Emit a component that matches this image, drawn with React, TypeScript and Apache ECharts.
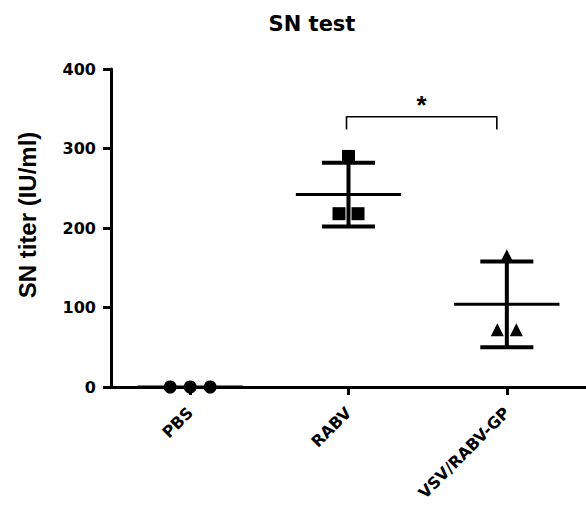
import React, { useEffect, useRef } from "react";
import * as echarts from "echarts";

// ---- data ----
const CATEGORIES = ["PBS", "RABV", "VSV/RABV-GP"];
const PBS_VALUES = [0, 0, 0];
const RABV_VALUES = [290, 218, 218];
const VSV_VALUES = [165, 72, 72];
const GROUP_MEANS = [0, 242, 104];
const GROUP_SDS = [0, 40, 54];
const Y_TICKS = [0, 100, 200, 300, 400];
const TITLE = "SN test";
const Y_TITLE = "SN titer (IU/ml)";
const SIG_FROM = 1;
const SIG_TO = 2;
const SIG_TOP = 340;
const SIG_FOOT = 324;
const SIG_LABEL = "*";

// ---- styling / layout (not data) ----
const JITTER_PBS = [-20, 0, 20];
const JITTER_RABV = [0, -9.5, 9.5];
const JITTER_VSV = [0, -9.5, 9.5];
const TICK_FONT = "DejaVu Sans";
const TITLE_FONT = "Liberation Sans";

function pts(catIdx: number, values: number[], jitter: number[]) {
  return values.map((v, i) => ({
    value: [catIdx, v],
    symbolOffset: [jitter[i], 0],
  }));
}

export default function App() {
  const ref = useRef<HTMLDivElement>(null);
  useEffect(() => {
    if (!ref.current) return;
    const chart = echarts.init(ref.current, undefined, { renderer: "svg" });
    const statsData = CATEGORIES.map((_, i) => [i, GROUP_MEANS[i], GROUP_SDS[i]]);
    const markerStyle = { color: "#000", opacity: 1 };
    const option: any = {
      animation: false,
      backgroundColor: "#ffffff",
      grid: { left: 111, right: 0, top: 69, bottom: 134, containLabel: false },
      graphic: [
        {
          type: "text",
          x: 312,
          y: 24,
          style: {
            text: TITLE,
            fontFamily: TICK_FONT,
            fontWeight: "bold",
            fontSize: 21,
            fill: "#000",
            align: "center",
            verticalAlign: "middle",
          },
        },
        {
          type: "text",
          x: 27,
          y: 215,
          rotation: Math.PI / 2,
          style: {
            text: Y_TITLE,
            fontFamily: TITLE_FONT,
            fontWeight: "bold",
            fontSize: 24,
            fill: "#000",
            align: "center",
            verticalAlign: "middle",
          },
        },
      ],
      xAxis: {
        type: "category",
        data: CATEGORIES,
        boundaryGap: true,
        axisLine: { show: true, lineStyle: { color: "#000", width: 3 } },
        axisTick: { show: true, alignWithLabel: true, length: 8, lineStyle: { color: "#000", width: 3 } },
        axisLabel: {
          rotate: 45,
          margin: 23,
          color: "#000",
          fontFamily: TICK_FONT,
          fontWeight: "bold",
          fontSize: 16,
          interval: 0,
        },
        splitLine: { show: false },
      },
      yAxis: {
        type: "value",
        min: Y_TICKS[0],
        max: Y_TICKS[Y_TICKS.length - 1],
        interval: Y_TICKS[1] - Y_TICKS[0],
        axisLine: { show: true, lineStyle: { color: "#000", width: 3 } },
        axisTick: { show: true, length: 8, lineStyle: { color: "#000", width: 3 } },
        axisLabel: {
          margin: 15,
          color: "#000",
          fontFamily: TICK_FONT,
          fontWeight: "bold",
          fontSize: 16,
        },
        splitLine: { show: false },
      },
      series: [
        {
          type: "scatter",
          name: "PBS",
          symbol: "circle",
          symbolSize: 13,
          itemStyle: markerStyle,
          data: pts(0, PBS_VALUES, JITTER_PBS),
          z: 3,
        },
        {
          type: "scatter",
          name: "RABV",
          symbol: "rect",
          symbolSize: 13,
          itemStyle: markerStyle,
          data: pts(1, RABV_VALUES, JITTER_RABV),
          z: 3,
        },
        {
          type: "scatter",
          name: "VSV/RABV-GP",
          symbol: "triangle",
          symbolSize: 13,
          itemStyle: markerStyle,
          data: pts(2, VSV_VALUES, JITTER_VSV),
          z: 3,
        },
        {
          type: "custom",
          name: "mean ± SD",
          data: statsData,
          encode: { x: 0, y: 1 },
          z: 4,
          renderItem: (params: any, api: any) => {
            const idx = api.value(0);
            const mean = api.value(1);
            const sd = api.value(2);
            const c = api.coord([idx, mean]);
            const top = api.coord([idx, mean + sd]);
            const bot = api.coord([idx, mean - sd]);
            const band = api.size([1, 0])[0];
            const mw = (band * 0.665) / 2;
            const cw = (band * 0.335) / 2;
            const children: any[] = [
              {
                type: "line",
                shape: { x1: c[0] - mw, y1: c[1], x2: c[0] + mw, y2: c[1] },
                style: { stroke: "#000", lineWidth: 3 },
              },
            ];
            if (sd > 0) {
              children.push(
                {
                  type: "line",
                  shape: { x1: c[0], y1: top[1], x2: c[0], y2: bot[1] },
                  style: { stroke: "#000", lineWidth: 4 },
                },
                {
                  type: "line",
                  shape: { x1: c[0] - cw, y1: top[1], x2: c[0] + cw, y2: top[1] },
                  style: { stroke: "#000", lineWidth: 4 },
                },
                {
                  type: "line",
                  shape: { x1: c[0] - cw, y1: bot[1], x2: c[0] + cw, y2: bot[1] },
                  style: { stroke: "#000", lineWidth: 4 },
                }
              );
            }
            return { type: "group", children };
          },
        },
        {
          type: "custom",
          name: "significance",
          data: [[SIG_FROM, SIG_TOP, SIG_TO, SIG_FOOT]],
          encode: { x: [0, 2], y: [1, 3] },
          z: 4,
          renderItem: (params: any, api: any) => {
            const a = api.coord([api.value(0), api.value(1)]);
            const b = api.coord([api.value(2), api.value(1)]);
            const foot = api.coord([api.value(0), api.value(3)]);
            const x1 = a[0] - 2;
            const x2 = b[0] - 10;
            const yTop = a[1];
            return {
              type: "group",
              children: [
                {
                  type: "polyline",
                  shape: {
                    points: [
                      [x1, foot[1]],
                      [x1, yTop],
                      [x2, yTop],
                      [x2, foot[1]],
                    ],
                  },
                  style: { stroke: "#000", lineWidth: 1.6, fill: "none", lineJoin: "round" },
                },
                {
                  type: "text",
                  x: (x1 + x2) / 2,
                  y: yTop - 12,
                  style: {
                    text: SIG_LABEL,
                    fontFamily: TITLE_FONT,
                    fontWeight: "bold",
                    fontSize: 26,
                    fill: "#000",
                    align: "center",
                    verticalAlign: "middle",
                  },
                },
              ],
            };
          },
        },
      ],
    };
    chart.setOption(option);
    return () => chart.dispose();
  }, []);
  return <div ref={ref} style={{ width: 586, height: 521, position: "absolute", left: 0, top: 0 }} />;
}
